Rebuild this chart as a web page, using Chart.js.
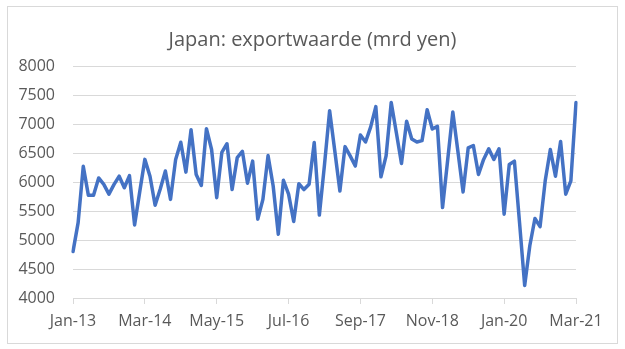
<!DOCTYPE html>
<html>
<head>
<meta charset="utf-8">
<script src="https://cdn.jsdelivr.net/npm/chart.js@4"></script>
<style>
  html, body { margin: 0; padding: 0; background: #fff; }
  .wrap { position: relative; width: 625px; height: 349px; }
  .frame {
    position: absolute; left: 7px; top: 6px; width: 611px; height: 338px;
    border: 1px solid #d9d9d9; box-sizing: border-box; pointer-events: none;
  }
  .title {
    position: absolute; left: 0; top: 25px; width: 625px; line-height: 24px;
    text-align: center; font: 20px "Open Sans", "Noto Sans", sans-serif; color: #595959;
  }
  canvas { position: absolute; left: 0; top: 0; }
</style>
</head>
<body>
<div class="wrap">
  <canvas id="exportChart" width="625" height="349"></canvas>
  <div class="title">Japan: exportwaarde (mrd yen)</div>
  <div class="frame"></div>
</div>
<script>
// monthly categories Jan-13 .. Mar-21
const years = ['13', '14', '15', '16', '17', '18', '19', '20', '21'];
const monthNames = ['Jan', 'Feb', 'Mar', 'Apr', 'May', 'Jun', 'Jul', 'Aug', 'Sep', 'Oct', 'Nov', 'Dec'];
const months = [];
years.forEach(y => monthNames.forEach(m => months.push(m + '-' + y)));
months.splice(months.indexOf('Mar-21') + 1);

// labels shown on the x axis
const xTickLabels = ['Jan-13', 'Mar-14', 'May-15', 'Jul-16', 'Sep-17', 'Nov-18', 'Jan-20', 'Mar-21'];

// export value, billion yen
const exportValue = [
    4800, 5300, 6270, 5770, 5770, 6070, 5960, 5790, 5960, 6100,
    5900, 6110, 5260, 5830, 6390, 6100, 5600, 5880, 6190, 5700,
    6390, 6685, 6170, 6900, 6130, 5940, 6920, 6560, 5730, 6510,
    6660, 5870, 6420, 6530, 5980, 6360, 5360, 5700, 6455, 5930,
    5100, 6030, 5790, 5320, 5970, 5870, 5960, 6680, 5430, 6300,
    7230, 6540, 5845, 6610, 6450, 6275, 6810, 6690, 6950, 7300,
    6090, 6450, 7370, 6850, 6320, 7046, 6743, 6690, 6714, 7246,
    6914, 6960, 5560, 6380, 7206, 6520, 5829, 6589, 6629, 6131,
    6389, 6571, 6389, 6571, 5446, 6303, 6360, 5300, 4217, 4900,
    5370, 5230, 6020, 6560, 6100, 6700, 5790, 6020, 7370
];

const yMin = 4000;
const yMax = 8000;
const yStep = 500;

const fontFamily = '"Open Sans", "Noto Sans", sans-serif';
const textColor = '#595959';
const gridColor = '#d9d9d9';

new Chart(document.getElementById('exportChart'), {
    type: 'line',
    data: {
        labels: months,
        datasets: [{
            data: exportValue,
            borderColor: '#4472c4',
            borderWidth: 3.5,
            pointRadius: 0,
            tension: 0,
            borderJoinStyle: 'round',
            borderCapStyle: 'round'
        }]
    },
    options: {
        responsive: false,
        animation: false,
        layout: { padding: { left: 0, right: 49, top: 66, bottom: 0 } },
        plugins: {
            legend: { display: false },
            tooltip: { enabled: false }
        },
        scales: {
            x: {
                offset: false,
                grid: { drawOnChartArea: false, drawTicks: true, tickLength: 6, color: gridColor },
                border: { color: gridColor },
                ticks: {
                    autoSkip: false,
                    maxRotation: 0,
                    padding: 8,
                    color: textColor,
                    font: { family: fontFamily, size: 16 },
                    callback: (v, i) => xTickLabels.includes(months[i]) ? months[i] : null
                },
                afterFit: scale => { scale.height = 51; }
            },
            y: {
                min: yMin,
                max: yMax,
                grid: { color: gridColor, drawTicks: false },
                border: { display: false },
                ticks: {
                    stepSize: yStep,
                    padding: 18,
                    color: textColor,
                    font: { family: fontFamily, size: 16 },
                    callback: v => String(v)
                },
                afterFit: scale => { scale.width = 73; }
            }
        }
    }
});
</script>
</body>
</html>
